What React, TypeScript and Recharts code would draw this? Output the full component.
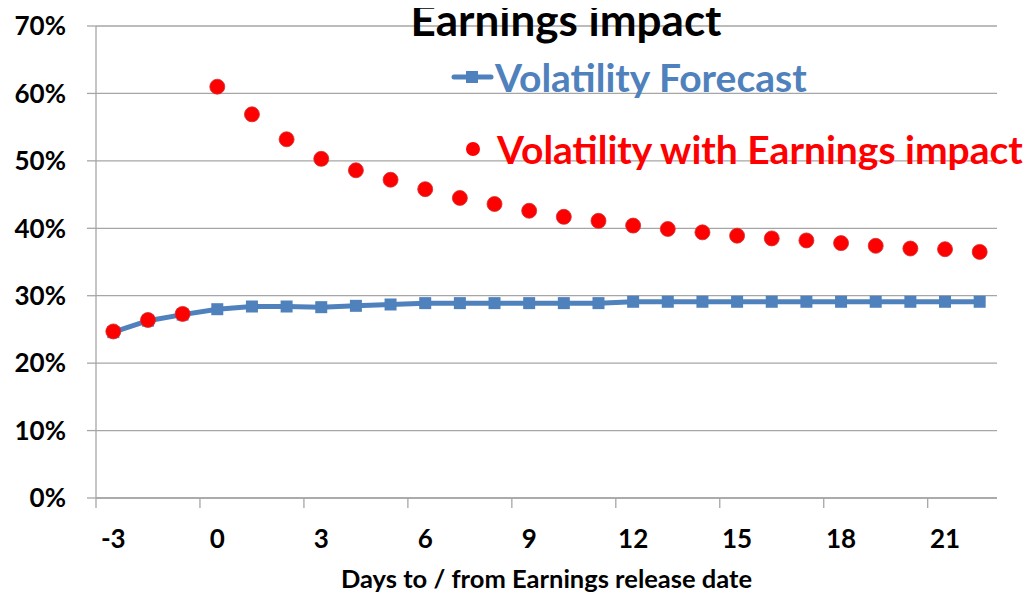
import { LineChart, Line, XAxis, YAxis, CartesianGrid } from "recharts";

const days = [-3, -2, -1, 0, 1, 2, 3, 4, 5, 6, 7, 8, 9, 10, 11, 12, 13, 14, 15, 16, 17, 18, 19, 20, 21, 22];
const forecast = [24.6, 26.3, 27.2, 28.0, 28.4, 28.4, 28.3, 28.5, 28.7, 28.9, 28.9, 28.9, 28.9, 28.9, 28.9, 29.1, 29.1, 29.1, 29.1, 29.1, 29.1, 29.1, 29.1, 29.1, 29.1, 29.1];
const withEarnings = [24.7, 26.4, 27.3, 61.0, 56.9, 53.2, 50.3, 48.6, 47.2, 45.8, 44.5, 43.6, 42.6, 41.7, 41.1, 40.4, 39.9, 39.4, 38.9, 38.5, 38.2, 37.8, 37.4, 37.0, 36.9, 36.5];
const yTicks = [0, 10, 20, 30, 40, 50, 60, 70];

const data = days.map((d, i) => ({ day: d, forecast: forecast[i], earnings: withEarnings[i] }));

const W = 1034;
const H = 600;
const margin = { top: 26, right: 37, left: 0, bottom: 0 };
const yAxisW = 96;
const xAxisH = 102;
const plotW = W - margin.left - margin.right - yAxisW;
const bw = plotW / days.length;
const BLUE = "#4F81BD";
const RED = "#FF0000";
const GRID = "#A6A6A6";
const FONT = "Lato, 'Open Sans', sans-serif";

const XTick = (props: any) => {
  const { x, y, payload } = props;
  const axisY = y - 22 - 10;
  return (
    <g>
      <line x1={x - bw / 2} x2={x - bw / 2} y1={axisY} y2={axisY + 10} stroke={GRID} strokeWidth={1.3} />
      <text x={x} y={y} dy="0.71em" textAnchor="middle" fontFamily={FONT} fontWeight={700} fontSize={26} fill="#000">
        {payload.value}
      </text>
    </g>
  );
};

const SquareDot = (props: any) => {
  const { cx, cy } = props;
  if (cx == null || cy == null) return null;
  return <rect x={cx - 6} y={cy - 6} width={12} height={12} fill={BLUE} />;
};

const RoundDot = (props: any) => {
  const { cx, cy } = props;
  if (cx == null || cy == null) return null;
  return <circle cx={cx} cy={cy} r={7.5} fill={RED} stroke="#d03030" strokeWidth={0.8} />;
};

const LegendBox = () => (
  <div style={{ position: "absolute", top: 54, left: 450, fontFamily: FONT, fontWeight: 700, fontSize: 39, whiteSpace: "nowrap", zIndex: 2 }}>
    <div style={{ display: "flex", alignItems: "center", color: BLUE, height: 46 }}>
      <svg width={44} height={20} style={{ marginRight: 1 }}>
        <line x1={4} x2={41} y1={10} y2={10} stroke={BLUE} strokeWidth={5} strokeLinecap="round" />
        <rect x={16} y={4} width={12} height={12} fill={BLUE} />
      </svg>
      Volatility Forecast
    </div>
    <div style={{ display: "flex", alignItems: "center", color: RED, height: 46, marginTop: 26 }}>
      <svg width={44} height={20} style={{ marginRight: 3 }}>
        <circle cx={23} cy={10} r={7} fill={RED} />
      </svg>
      Volatility with Earnings impact
    </div>
  </div>
);

export default function App() {
  return (
    <div style={{ margin: -8, position: "relative", width: W, height: H, background: "#fff", overflow: "hidden" }}>
      <div
        style={{
          position: "absolute",
          top: -6,
          left: 0,
          width: 1132,
          textAlign: "center",
          fontFamily: FONT,
          fontWeight: 700,
          fontSize: 44,
          lineHeight: "50px",
          zIndex: 2,
        }}
      >
        Earnings impact
      </div>
      <LegendBox />
      <LineChart width={W} height={H} data={data} margin={margin}>
        <CartesianGrid vertical={false} stroke={GRID} strokeWidth={1.3} />
        <XAxis
          dataKey="day"
          interval={2}
          height={xAxisH}
          padding={{ left: bw / 2, right: bw / 2 }}
          axisLine={{ stroke: GRID, strokeWidth: 1.3 }}
          tickLine={false}
          tickSize={10}
          tickMargin={22}
          tick={<XTick />}
          label={{
            value: "Days to / from Earnings release date",
            position: "insideBottom",
            offset: 12,
            style: { fontFamily: FONT, fontWeight: 700, fontSize: 25.5, fill: "#000" },
          }}
        />
        <YAxis
          width={yAxisW}
          domain={[0, 70]}
          ticks={yTicks}
          tickFormatter={(v: number) => `${v}%`}
          axisLine={{ stroke: GRID, strokeWidth: 1.3 }}
          tickLine={{ stroke: GRID, strokeWidth: 1.3 }}
          tickSize={9}
          tickMargin={21}
          tick={{ fontFamily: FONT, fontWeight: 700, fontSize: 26, fill: "#000" }}
        />
        <Line
          dataKey="forecast"
          stroke={BLUE}
          strokeWidth={5}
          dot={<SquareDot />}
          activeDot={false}
          isAnimationActive={false}
        />
        <Line
          dataKey="earnings"
          stroke="none"
          strokeWidth={0}
          dot={<RoundDot />}
          activeDot={false}
          isAnimationActive={false}
        />
      </LineChart>
    </div>
  );
}
